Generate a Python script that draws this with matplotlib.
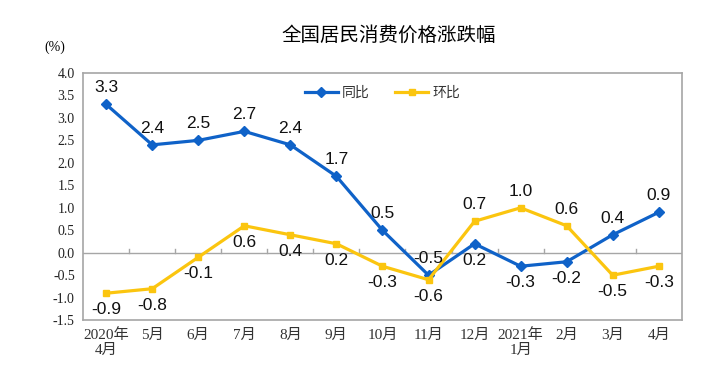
import matplotlib
matplotlib.use("Agg")
import matplotlib.pyplot as plt
import numpy as np

plt.rcParams['font.family'] = ['Liberation Sans', 'Noto Sans CJK SC', 'DejaVu Sans']

months = ["2020年\n4月", "5月", "6月", "7月", "8月", "9月", "10月", "11月",
          "12月", "2021年\n1月", "2月", "3月", "4月"]
yoy = [3.3, 2.4, 2.5, 2.7, 2.4, 1.7, 0.5, -0.5, 0.2, -0.3, -0.2, 0.4, 0.9]
mom = [-0.9, -0.8, -0.1, 0.6, 0.4, 0.2, -0.3, -0.6, 0.7, 1.0, 0.6, -0.5, -0.3]
# +1 = label above point, -1 = below
yoy_side = [1, 1, 1, 1, 1, 1, 1, 1, -1, -1, -1, 1, 1]
mom_side = [-1, -1, -1, -1, -1, -1, -1, -1, 1, 1, 1, -1, -1]

BLUE = "#0F62C8"
YELLOW = "#FBC50F"
GRID = "#A6A6A6"

fig = plt.figure(figsize=(7.23, 3.9), dpi=100)
ax = fig.add_axes([0.115, 0.179, 0.828, 0.634])

x = np.arange(len(months))
ax.plot(x, yoy, color=BLUE, lw=2.3, marker="D", ms=5, label="同比", zorder=3)
ax.plot(x, mom, color=YELLOW, lw=2.3, marker="s", ms=5, label="环比", zorder=3)

for xi, v, s in zip(x, yoy, yoy_side):
    ax.annotate(f"{v:.1f}", (xi, v), xytext=(0, 12 * s), textcoords="offset points",
                ha="center", va="center", fontsize=12.5, color="#111111")
for xi, v, s in zip(x, mom, mom_side):
    ax.annotate(f"{v:.1f}", (xi, v), xytext=(0, 12 * s), textcoords="offset points",
                ha="center", va="center", fontsize=12.5, color="#111111")

ax.set_xlim(-0.5, len(months) - 0.5)
ax.set_ylim(-1.5, 4.0)
ax.set_yticks(np.arange(-1.5, 4.01, 0.5))
ax.set_yticklabels([f"{t:.1f}" for t in np.arange(-1.5, 4.01, 0.5)],
                   family=['Liberation Serif'], fontsize=10, color="#222222")
ax.set_xticks(x)
ax.set_xticklabels(months, family=['Liberation Serif', 'Noto Sans CJK SC'],
                   fontsize=11, color="#333333", linespacing=1.1)
ax.tick_params(axis="both", length=0, pad=6)

# zero line with small upward ticks at category boundaries
ax.axhline(0, color=GRID, lw=1.0, zorder=1)
for b in np.arange(0.5, len(months) - 0.5, 1):
    ax.plot([b, b], [0, 0.08], color=GRID, lw=1.0, zorder=1)

for sp in ax.spines.values():
    sp.set_color(GRID)
    sp.set_linewidth(1.2)

ax.legend(loc="upper center", bbox_to_anchor=(0.5, 1.0), ncol=2, frameon=False,
          handlelength=2.4, handletextpad=0.3, columnspacing=1.8,
          labelcolor="#333333", prop={'family': ['Noto Sans CJK SC'], 'size': 10})

fig.text(0.537, 0.91, "全国居民消费价格涨跌幅", ha="center", va="center",
         fontsize=14, family=['Noto Sans CJK SC'])
fig.text(0.076, 0.88, "(%)", ha="center", va="center", fontsize=10,
         family=['Liberation Serif'])

fig.savefig("out.png", dpi=100, facecolor="white")
